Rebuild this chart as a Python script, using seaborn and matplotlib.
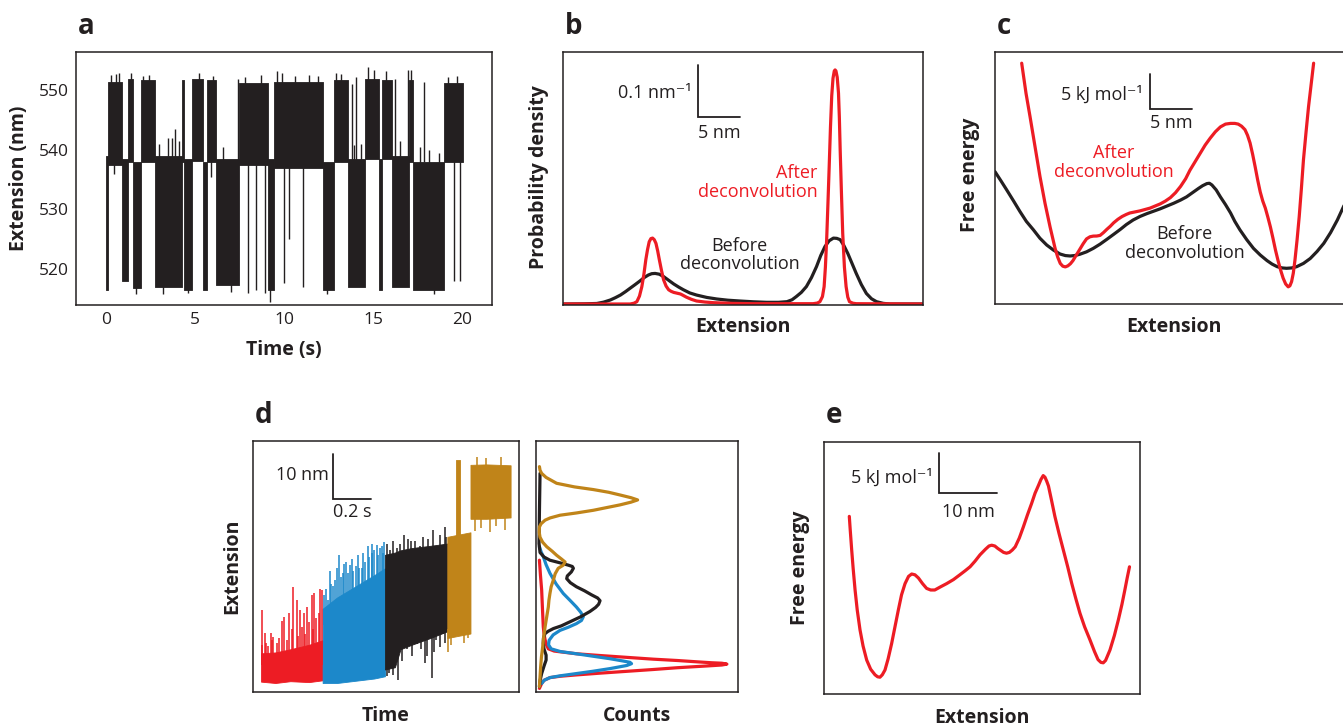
import matplotlib
matplotlib.use("Agg")
import matplotlib.pyplot as plt
import numpy as np
import pandas as pd
import seaborn as sns

INK = "#231F20"
RED = "#ED1C24"
BLUE = "#1C88CA"
GOLD = "#C08419"

# ---------------- panel a : extension trace (dwell segments) ----------------
a_seg_start = [0.0, 0.15, 0.9, 1.27, 1.55, 1.95, 2.75, 4.25, 4.4, 4.85, 5.45, 5.65, 6.2, 7.45,
               9.1, 9.45, 12.2, 12.77, 13.6, 14.54, 15.3, 15.5, 16.05, 17.0, 17.2, 18.95]
a_seg_end = [0.15, 0.9, 1.27, 1.55, 1.95, 2.75, 4.25, 4.4, 4.85, 5.45, 5.65, 6.2, 7.45, 9.1,
             9.45, 12.2, 12.77, 13.6, 14.54, 15.3, 15.5, 16.05, 17.0, 17.2, 18.95, 20.0]
a_seg_lo = [516.5, 537.5, 518.0, 538.0, 516.8, 538.0, 517.0, 538.0, 516.5, 538.2, 516.5, 538.0, 517.3,
            537.5, 516.5, 537.0, 516.5, 538.0, 517.0, 538.5, 516.5, 538.5, 517.0, 538.0, 516.5, 538.0]
a_seg_hi = [539.0, 551.5, 538.5, 552.0, 538.0, 551.7, 539.0, 551.7, 538.5, 552.0, 538.0, 551.7, 538.5,
            551.3, 538.5, 551.5, 538.0, 551.7, 538.5, 552.0, 538.5, 551.7, 539.0, 551.7, 538.0, 551.3]
a_spike_t = [0.45, 5.9, 8.0, 8.45, 8.95, 10.0, 10.3, 11.08, 19.5, 19.85, 7.4, 13.8, 14.0, 16.2, 16.95,
             17.85, 3.5, 3.9, 4.1, 0.75, 1.4, 5.2, 9.6, 12.9, 14.7, 15.05, 15.7, 17.1, 3.2, 7.0, 12.4,
             18.4, 9.2, 0.3, 0.6, 2.1, 2.4, 6.0, 7.8, 8.7, 9.9, 10.6, 11.4, 11.9, 13.2, 19.2, 19.7,
             3.0, 3.7, 6.6, 13.9, 14.3, 16.5, 17.6, 18.1, 18.7, 1.7, 4.6]
a_spike_lo = [536, 535.5, 516, 516.5, 516, 517.6, 525, 517, 518, 518, 538, 538, 538, 538, 538, 538,
              538, 538, 538, 551, 551, 551, 551, 551, 551, 551, 551, 551, 515.8, 516.2, 515.8, 515.8,
              514.5, 551, 551, 551, 551, 551, 551, 551, 551, 551, 551, 551, 551, 551, 551,
              536, 536, 536, 536, 536, 536, 536, 536, 536, 515.8, 515.9]
a_spike_hi = [539, 539, 539, 539, 539, 539, 539, 539, 539, 539, 552, 551, 552.3, 552, 553.5, 551.5,
              542, 543.5, 541.5, 553, 553, 553, 553.2, 553, 554, 553.5, 553.3, 553.5, 518, 518, 518,
              518, 517, 552.6, 552.8, 552.4, 552.6, 552.5, 552.3, 552.6, 552.9, 552.4, 552.6, 552.4,
              552.7, 552.3, 552.4, 541, 542, 540.5, 540.8, 541, 541.5, 540.5, 540, 539.5, 518, 518]
a_xticks = [0, 5, 10, 15, 20]
a_yticks = [520, 530, 540, 550]

# ---------------- panel b : probability density ----------------
b_x_before = [0.1, 2.5, 4.0, 4.8, 5.6, 6.2, 6.8, 7.4, 7.95, 8.55, 9.13, 9.6, 10.1, 10.5, 10.9, 11.4,
              11.9, 12.5, 13.1, 13.7, 14.25, 15.0, 15.8, 17.0, 18.2, 19.5, 20.9, 22.5, 24.1, 25.5, 26.5,
              27.1, 27.6, 28.2, 28.8, 29.4, 30.0, 30.5, 31.0, 31.5, 32.0, 32.4, 32.8, 33.2, 33.7, 34.2,
              34.7, 35.3, 35.9, 36.5, 37.1, 37.9, 38.7, 42.5]
b_y_before = [0.0, 0.0003, 0.001, 0.0035, 0.0076, 0.012, 0.017, 0.0235, 0.030, 0.037, 0.044, 0.050,
              0.055, 0.0575, 0.058, 0.0565, 0.052, 0.045, 0.038, 0.032, 0.027, 0.021, 0.017, 0.0125,
              0.0095, 0.0072, 0.0057, 0.0042, 0.0032, 0.0032, 0.0044, 0.008, 0.014, 0.022, 0.033,
              0.050, 0.071, 0.092, 0.109, 0.120, 0.125, 0.1245, 0.122, 0.112, 0.096, 0.077, 0.058,
              0.037, 0.020, 0.010, 0.0044, 0.0012, 0.0, 0.0]
b_x_after = [0.1, 7.95, 8.4, 8.74, 9.05, 9.33, 9.57, 9.8, 10.0, 10.2, 10.4, 10.6, 10.8, 11.0, 11.2,
             11.4, 11.65, 11.9, 12.2, 12.5, 12.8, 13.1, 13.5, 13.9, 14.2, 14.6, 15.2, 15.8, 16.8, 17.8,
             20.0, 22.5, 29.6, 30.1, 30.4, 30.7, 30.9, 31.05, 31.2, 31.35, 31.5, 31.65, 31.8, 31.95,
             32.1, 32.2, 32.3, 32.45, 32.6, 32.7, 32.8, 32.95, 33.1, 33.3, 33.5, 33.7, 33.9, 34.3,
             34.7, 42.5]
b_y_after = [0.0, 0.0, 0.0015, 0.0044, 0.015, 0.033, 0.056, 0.084, 0.103, 0.118, 0.124, 0.125, 0.122,
             0.115, 0.101, 0.084, 0.064, 0.046, 0.034, 0.027, 0.024, 0.022, 0.0205, 0.019, 0.0165,
             0.013, 0.0088, 0.0057, 0.0037, 0.0025, 0.0012, 0.0006, 0.0006, 0.0018, 0.0044, 0.014,
             0.033, 0.07, 0.122, 0.19, 0.261, 0.335, 0.395, 0.428, 0.442, 0.444, 0.442, 0.43, 0.40,
             0.355, 0.292, 0.21, 0.134, 0.07, 0.033, 0.013, 0.0044, 0.0015, 0.0006, 0.0]

# ---------------- panel c : free energy before / after ----------------
c_x_before = [0.0, 0.7, 1.38, 2.2, 2.95, 3.7, 4.53, 5.3, 6.1, 6.9, 7.68, 8.3, 8.86, 9.4, 10.0, 10.8,
              11.6, 12.4, 13.2, 14.0, 14.8, 15.5, 16.3, 17.1, 17.9, 18.7, 19.5, 20.3, 21.1, 21.9, 22.6,
              23.3, 24.0, 24.5, 25.0, 25.3, 25.6, 26.1, 26.6, 27.2, 27.8, 28.3, 28.9, 29.7, 30.5, 31.3,
              32.1, 32.7, 33.3, 33.9, 34.4, 35.0, 35.6, 36.4, 37.2, 38.0, 38.8, 39.6, 40.4, 41.2, 41.9,
              42.6]
c_e_before = [18.9, 17.6, 16.3, 14.7, 13.2, 11.8, 10.6, 9.4, 8.43, 7.7, 7.14, 6.92, 6.86, 6.92, 7.1,
              7.45, 7.95, 8.55, 9.24, 9.95, 10.67, 11.35, 12.0, 12.5, 12.9, 13.25, 13.6, 14.0, 14.4,
              14.85, 15.3, 15.9, 16.5, 16.9, 17.2, 17.25, 17.0, 16.3, 15.3, 14.2, 13.0, 11.8, 10.6, 9.2,
              7.95, 7.0, 6.2, 5.7, 5.33, 5.15, 5.1, 5.15, 5.33, 5.8, 6.5, 7.5, 8.67, 10.2, 12.0, 14.1,
              16.3, 18.6]
c_x_after = [3.15, 3.66, 4.13, 4.72, 5.31, 5.9, 6.5, 7.09, 7.4, 7.7, 8.0, 8.3, 8.6, 8.9, 9.2, 9.6, 10.0,
             10.4, 10.8, 11.2, 11.6, 12.0, 12.4, 12.8, 13.2, 13.6, 14.0, 14.5, 15.0, 15.5, 15.9, 16.5,
             17.1, 17.7, 18.3, 18.9, 19.5, 20.1, 20.7, 21.3, 21.9, 22.5, 23.0, 23.6, 24.2, 24.8, 25.4,
             26.0, 26.6, 27.2, 27.8, 28.3, 28.7, 29.1, 29.5, 29.8, 30.1, 30.4, 30.7, 31.0, 31.3, 31.6,
             31.9, 32.2, 32.5, 32.8, 33.1, 33.4, 33.7, 34.0, 34.3, 34.6, 34.8, 35.0, 35.2, 35.4, 35.65,
             35.9, 36.15, 36.4, 36.7, 37.0, 37.3, 37.6]
c_e_after = [34.4, 30.1, 26.8, 22.5, 18.2, 14.4, 11.0, 7.95, 6.7, 5.8, 5.4, 5.3, 5.45, 5.75, 6.2, 7.0,
             7.8, 8.6, 9.3, 9.6, 9.7, 9.71, 9.8, 10.2, 10.67, 11.1, 11.6, 12.1, 12.5, 12.8, 13.0, 13.15,
             13.3, 13.5, 13.7, 14.0, 14.3, 14.7, 15.2, 15.9, 16.8, 17.9, 19.1, 20.3, 21.5, 22.7, 23.7,
             24.6, 25.3, 25.7, 25.8, 25.8, 25.7, 25.4, 24.9, 24.1, 23.0, 21.4, 19.6, 17.7, 16.0, 14.7,
             13.7, 12.4, 11.0, 9.4, 7.7, 6.2, 4.86, 3.7, 2.86, 2.45, 2.6, 3.2, 4.4, 6.3, 9.2, 12.5,
             16.4, 20.6, 24.5, 28.2, 31.3, 34.4]

# ---------------- panel d : stepwise trace (envelopes + spikes) and histograms ----------------
d_red_t = [0.043, 0.12, 0.2, 0.3, 0.373]
d_red_lo = [2.3, 2.0, 2.4, 2.2, 2.6]
d_red_hi = [8.6, 8.8, 9.5, 10.5, 11.5]
d_red_spike_t = [0.046, 0.064, 0.094, 0.109, 0.153, 0.167, 0.194, 0.216, 0.234, 0.251, 0.275, 0.291,
                 0.314, 0.326, 0.359, 0.369, 0.05, 0.07, 0.08, 0.1, 0.13, 0.14, 0.18, 0.21, 0.24, 0.26,
                 0.28, 0.3, 0.32, 0.34, 0.355]
d_red_spike_top = [18.3, 13.1, 13.1, 12.3, 15.7, 16.7, 17.5, 23.4, 20.5, 18.3, 17.5, 18.9, 21.5, 21.9,
                   23.0, 22.7, 10.5, 11.0, 10.2, 11.5, 10.8, 12.0, 11.5, 14.0, 12.5, 14.5, 13.0, 15.5,
                   14.0, 16.5, 17.5]
d_blue_t = [0.373, 0.45, 0.55, 0.65, 0.707]
d_blue_lo = [2.0, 2.0, 2.5, 3.0, 3.5]
d_blue_hi = [18.5, 21.0, 23.5, 26.0, 27.5]
d_blue_spike_t = [0.412, 0.43, 0.44, 0.462, 0.483, 0.5, 0.519, 0.537, 0.564, 0.582, 0.617, 0.635,
                  0.662, 0.689, 0.698, 0.38, 0.39, 0.40, 0.42, 0.45, 0.47, 0.49, 0.51, 0.53, 0.55,
                  0.57, 0.59, 0.60, 0.62, 0.64, 0.65, 0.67, 0.68, 0.70]
d_blue_spike_top = [26.8, 23.5, 25.0, 30.4, 26.4, 29.0, 28.3, 26.8, 30.4, 27.5, 32.4, 30.9, 32.6, 32.4,
                    30.9, 21.5, 23.0, 20.5, 24.0, 27.5, 25.5, 28.5, 26.5, 29.5, 28.0, 27.5, 31.0, 29.0,
                    30.0, 33.0, 31.5, 30.5, 32.0, 33.3]
d_black_t = [0.707, 0.76, 0.79, 0.85, 0.95, 1.041]
d_black_lo = [5.0, 5.5, 9.5, 10.5, 12.0, 13.5]
d_black_hi = [30.5, 31.0, 31.5, 32.0, 32.5, 33.0]
d_black_up_t = [0.734, 0.769, 0.809, 0.849, 0.894, 0.966, 0.989, 1.028, 0.72, 0.75, 0.79, 0.83, 0.87,
                0.91, 0.94, 1.0, 1.035]
d_black_up_top = [31.6, 32.0, 34.9, 33.6, 32.4, 36.0, 32.4, 36.6, 33.0, 33.5, 33.0, 34.0, 33.5, 34.5,
                  34.0, 35.0, 34.5]
d_black_dn_t = [0.778, 0.823, 0.876, 0.930, 0.957, 0.983, 1.019, 0.72, 0.73, 0.75, 0.8, 0.85, 0.9,
                0.92, 0.97, 1.0, 1.03]
d_black_dn_bot = [2.7, 9.5, 10.6, 7.9, 3.1, 11.6, 13.0, 3.5, 4.2, 3.8, 7.0, 8.0, 9.5, 6.5, 9.0, 10.0,
                  11.0]
d_gold_low_t = [1.041, 1.165]
d_gold_low_lo = [12.0, 13.0]
d_gold_low_hi = [34.5, 35.5]
d_gold_col_t = [1.088, 1.108]
d_gold_col_lo = [13.0, 13.0]
d_gold_col_hi = [51.5, 51.5]
d_gold_up_t = [1.165, 1.25, 1.38]
d_gold_up_lo = [38.5, 38.5, 38.8]
d_gold_up_hi = [50.5, 50.6, 50.4]
d_gold_spike_t = [1.2, 1.25, 1.33, 1.19, 1.22, 1.27, 1.3, 1.35, 1.045, 1.06, 1.13, 1.15]
d_gold_spike_lo = [50.0, 50.0, 50.0, 35.8, 36.5, 35.6, 37.0, 36.0, 9.0, 10.5, 11.0, 12.0]
d_gold_spike_hi = [52.2, 52.0, 52.3, 39.0, 39.0, 39.0, 39.0, 39.0, 14.0, 14.0, 14.0, 14.0]

# histograms (counts as fraction of panel width, extension in nm)
d_hist_gold_c = [0.017, 0.02, 0.028, 0.05, 0.102, 0.19, 0.284, 0.36, 0.416, 0.47, 0.503, 0.47, 0.416,
                 0.35, 0.284, 0.2, 0.119, 0.07, 0.045, 0.025, 0.017, 0.016, 0.02, 0.033, 0.053, 0.08,
                 0.102, 0.125, 0.144, 0.135, 0.11, 0.095, 0.086, 0.075, 0.069, 0.064, 0.061, 0.053,
                 0.045, 0.038, 0.033, 0.027, 0.023, 0.02, 0.017]
d_hist_gold_e = [50.1, 49.3, 48.6, 47.7, 46.4, 45.6, 45.0, 44.4, 43.8, 43.2, 42.7, 42.2, 41.6, 41.0,
                 40.4, 39.8, 39.3, 38.7, 38.2, 37.4, 36.7, 35.5, 34.4, 33.3, 32.3, 31.3, 30.4, 29.6,
                 28.9, 28.2, 27.5, 26.3, 24.9, 23.4, 21.9, 20.4, 18.9, 16.7, 14.5, 12.2, 10.0, 7.8, 5.6,
                 3.4, 1.2]
d_hist_black_c = [0.020, 0.017, 0.015, 0.02, 0.04, 0.069, 0.12, 0.16, 0.18, 0.185, 0.175, 0.155, 0.152,
                  0.17, 0.2, 0.24, 0.275, 0.305, 0.317, 0.31, 0.295, 0.267, 0.22, 0.168, 0.125, 0.086,
                  0.06, 0.045, 0.037, 0.036, 0.04, 0.05, 0.05, 0.04, 0.028, 0.02, 0.017]
d_hist_black_e = [48.6, 40.0, 33.0, 31.0, 30.0, 29.3, 28.7, 28.2, 27.9, 27.5, 26.7, 25.8, 25.2, 24.3,
                  23.4, 22.5, 21.6, 20.9, 20.3, 19.5, 18.8, 17.9, 16.7, 15.6, 14.7, 14.1, 13.5, 13.0,
                  12.0, 10.8, 9.5, 8.2, 7.1, 5.8, 4.1, 2.5, 1.2]
d_hist_blue_c = [0.017, 0.025, 0.036, 0.05, 0.069, 0.1, 0.135, 0.17, 0.2, 0.222, 0.234, 0.225, 0.2,
                 0.16, 0.119, 0.085, 0.065, 0.062, 0.075, 0.12, 0.2, 0.29, 0.366, 0.43, 0.465, 0.473,
                 0.45, 0.366, 0.28, 0.2, 0.12, 0.069, 0.04, 0.028]
d_hist_blue_e = [32.3, 31.2, 30.1, 28.3, 26.4, 24.0, 21.9, 20.3, 18.9, 17.7, 16.7, 15.9, 15.2, 14.4,
                 13.7, 12.7, 11.5, 10.5, 9.6, 9.0, 8.5, 7.9, 7.4, 6.9, 6.6, 6.3, 5.9, 5.2, 4.6, 4.1, 3.6,
                 3.2, 2.6, 1.9]
d_hist_red_c = [0.017, 0.022, 0.028, 0.032, 0.036, 0.04, 0.045, 0.052, 0.061, 0.09, 0.2, 0.32, 0.45,
                0.58, 0.7, 0.8, 0.87, 0.92, 0.945, 0.92, 0.85, 0.70, 0.58, 0.45, 0.32, 0.2, 0.12, 0.069,
                0.04, 0.028, 0.017]
d_hist_red_e = [29.3, 26.0, 22.7, 18.5, 14.5, 12.8, 11.6, 10.5, 9.6, 9.1, 8.5, 8.1, 7.7, 7.3, 7.0, 6.7,
                6.5, 6.4, 6.2, 6.0, 5.8, 5.4, 5.0, 4.6, 4.2, 3.8, 3.5, 3.2, 2.6, 1.9, 0.8]

# ---------------- panel e : free energy landscape ----------------
e_x = [4.34, 4.5, 4.75, 5.0, 5.33, 5.7, 6.18, 6.7, 7.32, 8.0, 8.75, 9.2, 9.6, 10.0, 10.46, 11.0, 11.6,
       12.2, 12.75, 13.3, 13.9, 14.5, 15.04, 15.6, 16.2, 16.9, 17.6, 18.3, 19.0, 20.0, 21.04, 22.2,
       23.3, 24.2, 25.05, 25.9, 26.76, 27.7, 28.3, 28.76, 29.3, 29.8, 30.2, 30.8, 31.3, 31.8, 32.3,
       32.8, 33.5, 34.2, 34.9, 35.6, 36.2, 36.8, 37.2, 37.6, 37.9, 38.2, 38.5, 39.0, 39.6, 40.3, 41.05,
       41.8, 42.5, 43.2, 43.9, 44.7, 45.6, 46.4, 47.0, 47.5, 47.9, 48.3, 49.05, 49.8, 50.5, 51.1, 51.6,
       52.0, 52.4]
e_e = [22.2, 20.5, 18.0, 15.7, 13.0, 10.5, 8.0, 6.0, 4.25, 3.1, 2.4, 2.15, 2.1, 2.4, 3.0, 4.4, 6.3, 8.5,
       10.5, 12.4, 13.8, 14.7, 15.0, 14.9, 14.5, 13.8, 13.2, 13.0, 13.0, 13.4, 13.8, 14.3, 14.9, 15.4,
       15.9, 16.6, 17.4, 18.1, 18.5, 18.6, 18.5, 18.2, 18.0, 17.7, 17.6, 17.7, 18.0, 18.4, 19.5, 20.9,
       22.4, 23.8, 25.1, 26.1, 26.8, 27.3, 27.1, 26.6, 26.0, 24.3, 22.2, 20.1, 18.0, 15.9, 13.8, 11.9,
       10.1, 8.4, 6.8, 5.3, 4.3, 3.95, 3.9, 4.2, 5.5, 7.3, 9.3, 11.2, 13.0, 14.5, 15.9]

# ---------------- styling ----------------
sns.set_theme(style="white")
plt.rcParams["font.family"] = ["Open Sans", "DejaVu Sans"]
plt.rcParams["text.color"] = INK

W, H = 1343, 728
fig = plt.figure(figsize=(W / 100, H / 100), dpi=100)
fig.patch.set_facecolor("white")

LAB = dict(fontsize=14, fontweight="bold", color=INK)
ANN = 13


def add_ax(box):
    l, t, r, b = box
    ax = fig.add_axes([l / W, 1 - b / H, (r - l) / W, (b - t) / H])
    ax.set_facecolor("white")
    for s in ax.spines.values():
        s.set_color(INK)
        s.set_linewidth(1.1)
    return ax


def labels(ax, box, xl=None, xpx=None, yl=None, ypx=None):
    l, t, r, b = box
    if xl is not None:
        ax.set_xlabel(xl, va="center", **LAB)
        ax.xaxis.set_label_coords((xpx[0] - l) / (r - l), (b - xpx[1]) / (b - t))
    else:
        ax.set_xlabel("")
    if yl is not None:
        ax.set_ylabel(yl, va="center", **LAB)
        ax.yaxis.set_label_coords((ypx[0] - l) / (r - l), (b - ypx[1]) / (b - t))
    else:
        ax.set_ylabel("")


def curve(ax, x, y, color, lw=2.3):
    sns.lineplot(x=x, y=y, ax=ax, color=color, linewidth=lw, sort=False, estimator=None,
                 solid_joinstyle="round", solid_capstyle="round")


def scalebar(ax, x0, y0, dx, dy):
    ax.plot([x0, x0, x0 + dx], [y0 + dy, y0, y0], color=INK, lw=1.3, solid_joinstyle="miter")


def letter(x, y, s):
    fig.text(x / W, 1 - y / H, s, fontsize=20, fontweight="bold", color=INK, va="baseline", ha="left")


# ---- panel a ----
box_a = (76, 52, 492, 305)
ax = add_ax(box_a)
for t0, t1, lo, hi in zip(a_seg_start, a_seg_end, a_seg_lo, a_seg_hi):
    ax.fill_between([t0, t1], [lo, lo], [hi, hi], color=INK, lw=0.6)
ax.vlines(a_spike_t, a_spike_lo, a_spike_hi, color=INK, lw=1.0)
ax.set_xlim(-1.666, 21.65)
ax.set_ylim(513.94, 556.46)
ax.set_xticks(a_xticks)
ax.set_yticks(a_yticks)
ax.tick_params(direction="in", length=8, width=1.1, color=INK, labelsize=12.5, labelcolor=INK, pad=5)
labels(ax, box_a, "Time (s)", (284, 350), "Extension (nm)", (19, 178))
letter(78, 34, "a")

# ---- panel b ----
box_b = (563, 52, 923, 305)
ax = add_ax(box_b)
curve(ax, b_x_before, b_y_before, INK)
curve(ax, b_x_after, b_y_after, RED)
ax.set_xlim(0, 42.6)
ax.set_ylim(-0.0019, 0.478)
ax.set_xticks([])
ax.set_yticks([])
scalebar(ax, 15.94, 0.3538, 5, 0.1)
ax.text(15.2, 0.400, "0.1 nm\u207b\u00b9", ha="right", va="center", fontsize=ANN, color=INK)
ax.text(18.45, 0.325, "5 nm", ha="center", va="center", fontsize=ANN, color=INK)
ax.text(30.1, 0.231, "After\ndeconvolution", ha="right", va="center", fontsize=ANN, color=RED,
        multialignment="right", linespacing=1.05)
ax.text(20.9, 0.093, "Before\ndeconvolution", ha="center", va="center", fontsize=ANN, color=INK,
        linespacing=1.05)
labels(ax, box_b, "Extension", (743, 327), "Probability density", (539, 177))
letter(565, 34, "b")

# ---- panel c ----
box_c = (995, 52, 1356, 304)
ax = add_ax(box_c)
curve(ax, c_x_before, c_e_before, INK)
curve(ax, c_x_after, c_e_after, RED)
ax.set_xlim(0, 42.6)
ax.set_ylim(0, 36.0)
ax.set_xticks([])
ax.set_yticks([])
scalebar(ax, 18.3, 27.86, 5, 5)
ax.text(17.4, 29.9, "5 kJ mol\u207b\u00b9", ha="right", va="center", fontsize=ANN, color=INK)
ax.text(20.8, 25.9, "5 nm", ha="center", va="center", fontsize=ANN, color=INK)
ax.text(14.0, 20.2, "After\ndeconvolution", ha="center", va="center", fontsize=ANN, color=RED,
        linespacing=1.05)
ax.text(22.4, 8.6, "Before\ndeconvolution", ha="center", va="center", fontsize=ANN, color=INK,
        linespacing=1.05)
labels(ax, box_c, "Extension", (1174, 327), "Free energy", (970, 175))
letter(997, 34, "c")

# ---- panel d (trace) ----
box_d1 = (253, 441, 519, 692)
ax = add_ax(box_d1)
for tt, lo, hi, col in [(d_red_t, d_red_lo, d_red_hi, RED),
                        (d_blue_t, d_blue_lo, d_blue_hi, BLUE),
                        (d_black_t, d_black_lo, d_black_hi, INK),
                        (d_gold_low_t, d_gold_low_lo, d_gold_low_hi, GOLD),
                        (d_gold_col_t, d_gold_col_lo, d_gold_col_hi, GOLD),
                        (d_gold_up_t, d_gold_up_lo, d_gold_up_hi, GOLD)]:
    ax.fill_between(tt, lo, hi, color=col, lw=0.6)
ax.vlines(d_red_spike_t, 6.0, d_red_spike_top, color=RED, lw=1.1)
ax.vlines(d_blue_spike_t, 15.0, d_blue_spike_top, color=BLUE, lw=1.1)
ax.vlines(d_black_up_t, 25.0, d_black_up_top, color=INK, lw=1.1)
ax.vlines(d_black_dn_t, d_black_dn_bot, 15.0, color=INK, lw=1.1)
ax.vlines(d_gold_spike_t, d_gold_spike_lo, d_gold_spike_hi, color=GOLD, lw=1.1)
ax.set_xlim(0, 1.425)
ax.set_ylim(0, 55.8)
ax.set_xticks([])
ax.set_yticks([])
scalebar(ax, 0.43, 43.0, 0.2, 10)
ax.text(0.405, 48.2, "10 nm", ha="right", va="center", fontsize=ANN, color=INK)
ax.text(0.532, 40.0, "0.2 s", ha="center", va="center", fontsize=ANN, color=INK)
labels(ax, box_d1, "Time", (386, 716), "Extension", (232, 566))
letter(255, 423, "d")

# ---- panel d (histograms) ----
box_d2 = (536, 441, 738, 692)
ax = add_ax(box_d2)
curve(ax, d_hist_red_c, d_hist_red_e, RED)
curve(ax, d_hist_blue_c, d_hist_blue_e, BLUE)
curve(ax, d_hist_black_c, d_hist_black_e, INK)
curve(ax, d_hist_gold_c, d_hist_gold_e, GOLD)
ax.set_xlim(0, 1)
ax.set_ylim(0, 55.8)
ax.set_xticks([])
ax.set_yticks([])
labels(ax, box_d2, "Counts", (637, 716))

# ---- panel e ----
box_e = (824, 442, 1140, 694)
ax = add_ax(box_e)
curve(ax, e_x, e_e, RED)
ax.set_xlim(0, 54.2)
ax.set_ylim(0, 31.5)
ax.set_xticks([])
ax.set_yticks([])
scalebar(ax, 19.7, 25.1, 10, 5)
ax.text(18.7, 27.1, "5 kJ mol\u207b\u00b9", ha="right", va="center", fontsize=ANN, color=INK)
ax.text(24.8, 22.8, "10 nm", ha="center", va="center", fontsize=ANN, color=INK)
labels(ax, box_e, "Extension", (982, 718), "Free energy", (800, 568))
letter(826, 423, "e")

fig.savefig("out.png", dpi=100, facecolor="white")
